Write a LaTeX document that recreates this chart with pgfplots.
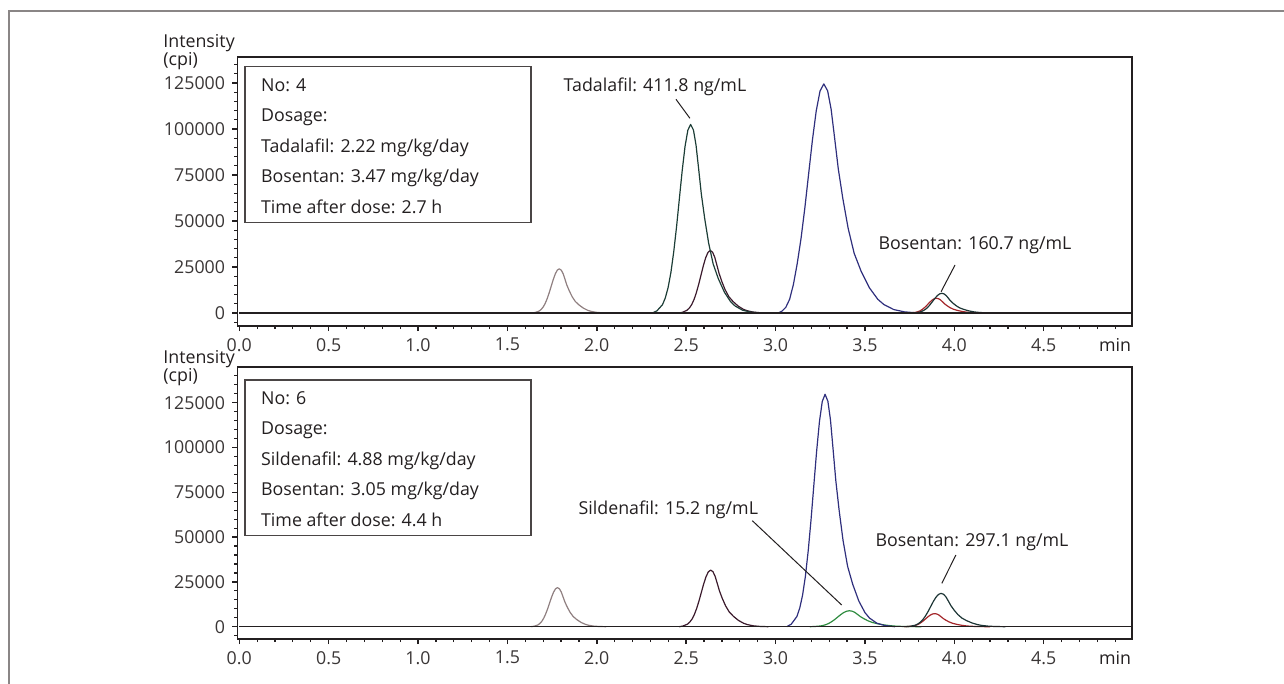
\documentclass[border=0pt]{standalone}
\usepackage{fontspec}
\setmainfont{Open Sans}
\usepackage{pgfplots}
\pgfplotsset{compat=1.18}
\definecolor{axc}{HTML}{231F20}
\definecolor{txc}{HTML}{3A3636}
\definecolor{boxc}{HTML}{4A4545}
\definecolor{framec}{HTML}{8A8686}
\definecolor{cgray}{HTML}{8F7F80}
\definecolor{ctad}{HTML}{1C3D36}
\definecolor{cmar}{HTML}{3B1A2C}
\definecolor{cnavy}{HTML}{2F2F7D}
\definecolor{cbos}{HTML}{1D3535}
\definecolor{cred}{HTML}{A3262A}
\definecolor{cgreen}{HTML}{2E8B3F}
\newcommand\chromfont{\fontsize{8.9pt}{10.7pt}\selectfont}
\pgfplotsset{
  chrom/.style={
    scale only axis, width=447.35pt,
    xmin=-0.011, xmax=4.994,
    xtick={0,0.5,1,1.5,2,2.5,3,3.5,4,4.5},
    minor xtick={0.1,0.2,0.3,0.4,0.6,0.7,0.8,0.9,1.1,1.2,1.3,1.4,1.6,1.7,1.8,1.9,2.1,2.2,2.3,2.4,2.6,2.7,2.8,2.9,3.1,3.2,3.3,3.4,3.6,3.7,3.8,3.9,4.1,4.2,4.3,4.4,4.6,4.7,4.8,4.9},
    ytick={0,25000,50000,75000,100000,125000},
    minor ytick={-5000,5000,10000,15000,20000,30000,35000,40000,45000,55000,60000,65000,70000,80000,85000,90000,95000,105000,110000,115000,120000,130000,135000,140000},
    xtick pos=bottom, ytick pos=left,
    tick align=outside,
    major tick length=2.6pt, minor tick length=1.6pt,
    axis line style={axc, line width=0.75pt},
    major tick style={axc, line width=0.75pt},
    minor tick style={axc, line width=0.6pt},
    tick label style={font=\chromfont, text=txc},
    xticklabel style={/pgf/number format/.cd, fixed, fixed zerofill, precision=1, assume math mode=true},
    yticklabel style={/pgf/number format/.cd, fixed, precision=0, 1000 sep={}, assume math mode=true},
    scaled y ticks=false, scaled x ticks=false,
    clip=true,
    every axis plot/.append style={line width=0.6pt, no markers, line join=round},
  }
}
\begin{document}
\begin{tikzpicture}[x=1pt,y=1pt,font=\chromfont]
\path[use as bounding box] (0,0) rectangle (642,342);
\draw[framec, line width=1pt] (4.35,0) -- (4.35,336.65) -- (642,336.65);

% ---------------- top panel ----------------
\begin{axis}[chrom, height=134.5pt, at={(118.65pt,179pt)}, anchor=south west,
  ymin=-7065, ymax=139130]
\addplot[cgray] coordinates {(1.637,0) (1.655,264) (1.6775,1056) (1.6888,1920) (1.70,3240) (1.7113,5184) (1.7225,7800) (1.7338,10992) (1.745,14568) (1.7563,18120) (1.7675,21168) (1.7788,23256) (1.79,24000) (1.8013,23280) (1.8116,21360) (1.8215,18480) (1.8328,15120) (1.8463,12000) (1.862,8880) (1.88,6240) (1.9003,4392) (1.925,2640) (1.9498,1440) (1.9678,888) (1.997,360) (2.0285,120) (2.069,0)};
\addplot[cmar] coordinates {(2.4582,0) (2.479,374) (2.505,1496) (2.518,2720) (2.531,4590) (2.544,7344) (2.557,11050) (2.57,15572) (2.583,20638) (2.596,25670) (2.609,29988) (2.622,32946) (2.635,34000) (2.648,32980) (2.66,30260) (2.6714,26180) (2.6844,21420) (2.70,17000) (2.7182,12580) (2.739,8840) (2.7624,6222) (2.791,3740) (2.8196,2040) (2.8404,1258) (2.8742,510) (2.9106,170) (2.9574,0)};
\addplot[ctad] coordinates {(2.3108,0) (2.336,1128) (2.3675,4510) (2.3833,8200) (2.399,13838) (2.4148,22140) (2.4305,33313) (2.4463,46945) (2.462,62218) (2.4778,77388) (2.4935,90405) (2.5093,99323) (2.525,102500) (2.5408,99425) (2.5552,91225) (2.5691,78925) (2.5849,64575) (2.6038,51250) (2.6258,37925) (2.651,26650) (2.6794,18758) (2.714,11275) (2.7487,6150) (2.7739,3793) (2.8148,1538) (2.8589,513) (2.9156,0)};
\addplot[cnavy] coordinates {(3.015,0) (3.036,996) (3.0575,3113) (3.0788,7470) (3.10,15563) (3.1213,26892) (3.1425,40463) (3.1638,57021) (3.185,75572) (3.2063,93998) (3.2275,109809) (3.2488,120641) (3.27,124500) (3.2913,120765) (3.3108,110805) (3.3295,95865) (3.3508,78435) (3.3763,62250) (3.406,46065) (3.44,32370) (3.4783,22784) (3.525,13695) (3.5718,7470) (3.6058,4607) (3.661,1868) (3.7205,623) (3.797,0)};
\addplot[cred] coordinates {(3.7402,0) (3.759,88) (3.7825,352) (3.7943,640) (3.806,1080) (3.8178,1728) (3.8295,2600) (3.8413,3664) (3.853,4856) (3.8648,6040) (3.8765,7056) (3.8883,7752) (3.90,8000) (3.9118,7760) (3.9226,7120) (3.9329,6160) (3.9447,5040) (3.9588,4000) (3.9752,2960) (3.994,2080) (4.0152,1464) (4.041,880) (4.0669,480) (4.0857,296) (4.1162,120) (4.1491,40) (4.1914,0)};
\addplot[cbos] coordinates {(3.76,0) (3.78,118) (3.805,471) (3.8175,856) (3.83,1445) (3.8425,2311) (3.855,3478) (3.8675,4901) (3.88,6495) (3.8925,8079) (3.905,9437) (3.9175,10368) (3.93,10700) (3.9425,10379) (3.954,9523) (3.965,8239) (3.9775,6741) (3.9925,5350) (4.01,3959) (4.03,2782) (4.0525,1958) (4.08,1177) (4.1075,642) (4.1275,396) (4.16,161) (4.195,54) (4.24,0)};
\addplot[axc, line width=0.8pt] coordinates {(0,0) (5,0)};
\draw[axc, line width=0.5pt] (axis cs:2.443,116140) -- (axis cs:2.521,105815);
\draw[axc, line width=0.5pt] (axis cs:4.004,26087) -- (axis cs:3.926,11576);
\end{axis}

% ---------------- bottom panel ----------------
\begin{axis}[chrom, height=136pt, at={(118.65pt,22.5pt)}, anchor=south west,
  ymin=-6864, ymax=144922]
\addplot[cgray] coordinates {(1.6304,0) (1.648,240) (1.67,959) (1.681,1744) (1.692,2943) (1.703,4709) (1.714,7085) (1.725,9984) (1.736,13233) (1.747,16459) (1.758,19228) (1.769,21124) (1.78,21800) (1.791,21146) (1.8011,19402) (1.8108,16786) (1.8218,13734) (1.835,10900) (1.8504,8066) (1.868,5668) (1.8878,3989) (1.912,2398) (1.9362,1308) (1.9538,807) (1.9824,327) (2.0132,109) (2.0528,0)};
\addplot[cmar] coordinates {(2.4602,0) (2.481,348) (2.507,1390) (2.52,2528) (2.533,4266) (2.546,6826) (2.559,10270) (2.572,14473) (2.585,19181) (2.598,23858) (2.611,27871) (2.624,30620) (2.637,31600) (2.65,30652) (2.662,28124) (2.6734,24332) (2.6864,19908) (2.702,15800) (2.7202,11692) (2.741,8216) (2.7644,5783) (2.793,3476) (2.8216,1896) (2.8424,1169) (2.8762,474) (2.9126,158) (2.9594,0)};
\addplot[cgreen] coordinates {(3.192,0) (3.218,98) (3.2505,392) (3.2668,712) (3.283,1202) (3.2993,1922) (3.3155,2893) (3.3318,4076) (3.348,5402) (3.3643,6720) (3.3805,7850) (3.3968,8624) (3.413,8900) (3.4293,8633) (3.4442,7921) (3.4585,6853) (3.4748,5607) (3.4943,4450) (3.517,3293) (3.543,2314) (3.5723,1629) (3.608,979) (3.6438,534) (3.6698,329) (3.712,134) (3.7575,45) (3.816,0)};
\addplot[cnavy] coordinates {(3.0628,0) (3.088,1427) (3.1195,5707) (3.1353,10376) (3.151,17510) (3.1668,28015) (3.1825,42153) (3.1983,59403) (3.214,78728) (3.2298,97924) (3.2455,114395) (3.2613,125679) (3.277,129700) (3.2928,125809) (3.3072,115433) (3.3211,99869) (3.3369,81711) (3.3558,64850) (3.3778,47989) (3.403,33722) (3.4314,23735) (3.466,14267) (3.5007,7782) (3.5259,4799) (3.5668,1946) (3.6109,649) (3.6676,0)};
\addplot[cred] coordinates {(3.72,0) (3.74,80) (3.765,321) (3.7775,584) (3.79,986) (3.8025,1577) (3.815,2373) (3.8275,3343) (3.84,4431) (3.8525,5512) (3.865,6439) (3.8775,7074) (3.89,7300) (3.9025,7081) (3.914,6497) (3.925,5621) (3.9375,4599) (3.9525,3650) (3.97,2701) (3.99,1898) (4.0125,1336) (4.04,803) (4.0675,438) (4.0875,270) (4.12,110) (4.155,37) (4.20,0)};
\addplot[cbos] coordinates {(3.7288,0) (3.752,205) (3.781,818) (3.7955,1488) (3.81,2511) (3.8245,4018) (3.839,6045) (3.8535,8519) (3.868,11290) (3.8825,14043) (3.897,16405) (3.9115,18023) (3.926,18600) (3.9405,18042) (3.9538,16554) (3.9666,14322) (3.9811,11718) (3.9985,9300) (4.0188,6882) (4.042,4836) (4.0681,3404) (4.10,2046) (4.1319,1116) (4.1551,688) (4.1928,279) (4.2334,93) (4.2856,0)};
\addplot[axc, line width=0.8pt] coordinates {(0,0) (5,0)};
\draw[axc, line width=0.5pt] (axis cs:2.870,59152) -- (axis cs:3.370,12109);
\draw[axc, line width=0.5pt] (axis cs:4.009,40011) -- (axis cs:3.930,24219);
\end{axis}

% ---------------- labels ----------------
\begin{scope}[every node/.style={text=axc, inner sep=0pt}]
\node[anchor=base west] at (81.5,318) {Intensity};
\node[anchor=base west] at (81.5,309) {(cpi)};
\node[anchor=base west] at (81.5,160) {Intensity};
\node[anchor=base west] at (81.5,151) {(cpi)};
\node[anchor=base] at (557.5,166.2) {min};
\node[anchor=base] at (557.5,9.8) {min};
\node[anchor=base] at (327.5,296.25) {Tadalafil: 411.8 ng/mL};
\node[anchor=base] at (487.5,217.4) {Bosentan: 160.7 ng/mL};
\node[anchor=base] at (334.15,84.6) {Sildenafil: 15.2 ng/mL};
\node[anchor=base] at (486,68.75) {Bosentan: 297.1 ng/mL};
% info boxes
\draw[boxc, line width=0.7pt] (122.5,230.85) rectangle (265.5,308.65);
\node[anchor=base west] at (130.35,296.25) {No: 4};
\node[anchor=base west] at (130.35,281.0) {Dosage:};
\node[anchor=base west] at (130.35,265.75) {Tadalafil: 2.22 mg/kg/day};
\node[anchor=base west] at (130.35,250.5) {Bosentan: 3.47 mg/kg/day};
\node[anchor=base west] at (130.35,235.25) {Time after dose: 2.7 h};
\draw[boxc, line width=0.7pt] (122.5,74.15) rectangle (265.5,152);
\node[anchor=base west] at (130.35,139.9) {No: 6};
\node[anchor=base west] at (130.35,124.65) {Dosage:};
\node[anchor=base west] at (130.35,109.4) {Sildenafil: 4.88 mg/kg/day};
\node[anchor=base west] at (130.35,94.15) {Bosentan: 3.05 mg/kg/day};
\node[anchor=base west] at (130.35,78.9) {Time after dose: 4.4 h};
\end{scope}
\end{tikzpicture}
\end{document}
